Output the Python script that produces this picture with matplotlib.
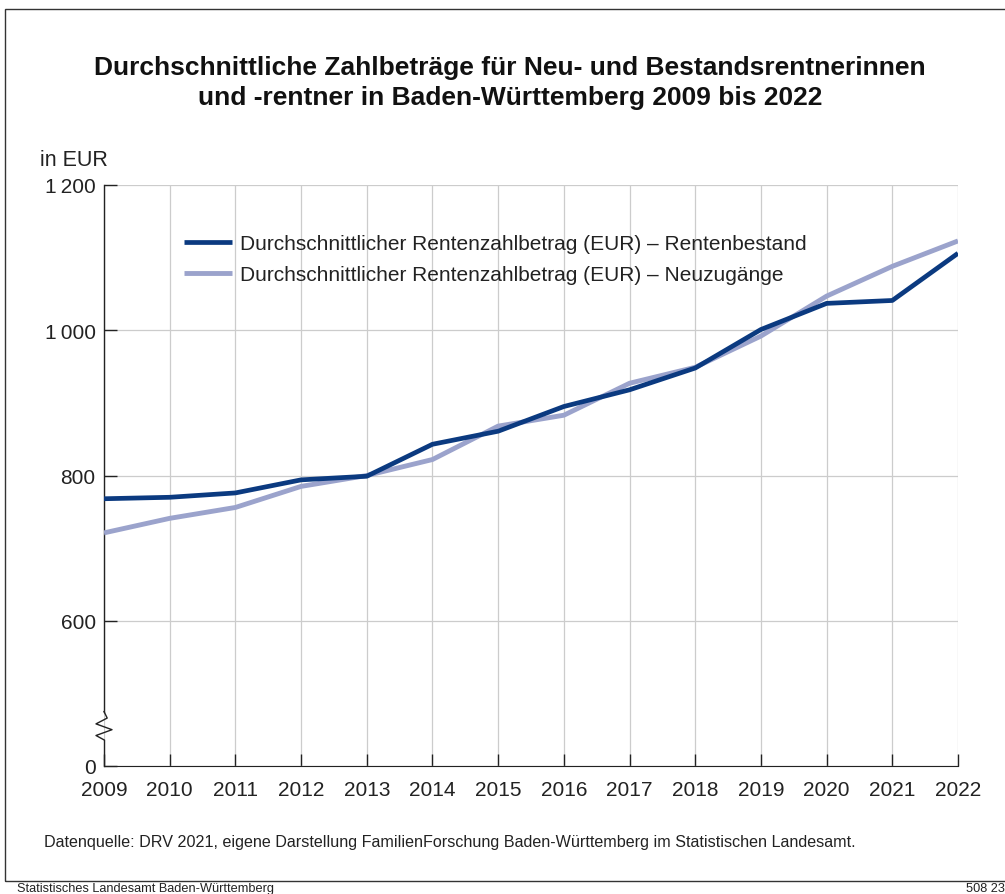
import matplotlib.pyplot as plt
from matplotlib.patches import Rectangle
from matplotlib.transforms import blended_transform_factory

plt.rcParams['font.family'] = ['Liberation Sans', 'DejaVu Sans']

# data (EUR)
years = list(range(2009, 2023))
bestand = [768, 770, 776, 794, 799, 843, 861, 895, 918, 948, 1001, 1037, 1041, 1106]
neuzugang = [721, 741, 756, 785, 800, 822, 868, 883, 927, 949, 992, 1047, 1088, 1123]
ytick_vals = [400, 600, 800, 1000, 1200]   # 400 position stands for the broken axis zero
ytick_labels = ['0', '600', '800', '1\u2009000', '1\u2009200']

dark = '#0b3a80'
light = '#9ba3cc'
text_col = '#222222'

W, H = 1005, 895
fig = plt.figure(figsize=(W / 100, H / 100), dpi=100)
ax = fig.add_axes([104 / W, 1 - 767 / H, (958 - 104) / W, (767 - 186) / H])

ax.plot(years, neuzugang, color=light, lw=3.5, solid_capstyle='butt', zorder=3,
        label='Durchschnittlicher Rentenzahlbetrag (EUR) \u2013 Neuzugänge')
ax.plot(years, bestand, color=dark, lw=3.4, solid_capstyle='butt', zorder=4,
        label='Durchschnittlicher Rentenzahlbetrag (EUR) \u2013 Rentenbestand')

ax.set_xlim(2009, 2022)
ax.set_ylim(400, 1200)
ax.set_xticks(years)
ax.set_yticks(ytick_vals)
ax.set_yticklabels(ytick_labels)
ax.grid(True, color='#cccccc', lw=0.9)
ax.set_axisbelow(True)
ax.tick_params(direction='in', length=9, width=1, color='#222222',
               labelsize=15, labelcolor=text_col)
ax.tick_params(axis='x', pad=10)
ax.tick_params(axis='y', pad=6)
for s in ['top', 'right', 'left']:
    ax.spines[s].set_visible(False)
ax.spines['bottom'].set_color('#222222')

# left spine with break symbol
tr = blended_transform_factory(ax.transAxes, ax.transData)
dx = 8 / 854
ax.plot([0, 0], [400, 436], color='#222222', lw=1, transform=tr, clip_on=False)
ax.plot([0, -dx, dx, -dx, dx * 0.4, 0], [436, 442, 450, 458, 466, 475],
        color='#222222', lw=1, transform=tr, clip_on=False)
ax.plot([0, 0], [475, 1200], color='#222222', lw=1, transform=tr, clip_on=False)

handles, labels = ax.get_legend_handles_labels()
leg = ax.legend(handles[::-1], labels[::-1], loc='upper left',
                bbox_to_anchor=(80 / 854, 1 - 49 / 581), frameon=False,
                fontsize=15, handlelength=2.3, handletextpad=0.4,
                labelspacing=0.58, borderpad=0, borderaxespad=0)
for t in leg.get_texts():
    t.set_color(text_col)

fig.text(510 / W, 1 - 83 / H, 'Durchschnittliche Zahlbeträge für Neu- und Bestandsrentnerinnen\nund -rentner in Baden-Württemberg 2009 bis 2022',
         ha='center', va='center', fontsize=19, fontweight='bold', color='#111111',
         linespacing=1.3)
fig.text(40 / W, 1 - 160 / H, 'in EUR', ha='left', va='center', fontsize=15.5, color=text_col)
fig.text(44 / W, 1 - 843 / H,
         'Datenquelle: DRV 2021, eigene Darstellung FamilienForschung Baden-Württemberg im Statistischen Landesamt.',
         ha='left', va='center', fontsize=11.6, color=text_col)
fig.text(17 / W, 1 - 889 / H, 'Statistisches Landesamt Baden-Württemberg',
         ha='left', va='center', fontsize=9.2, color=text_col)
fig.text(966 / W, 1 - 889 / H, '508 23', ha='left', va='center', fontsize=9.2, color=text_col)

fig.patches.append(Rectangle((5 / W, 1 - 882 / H), 1010 / W, 872 / H, transform=fig.transFigure,
                             fill=False, edgecolor='#333333', lw=1.0))

fig.savefig('out.png', dpi=100)
